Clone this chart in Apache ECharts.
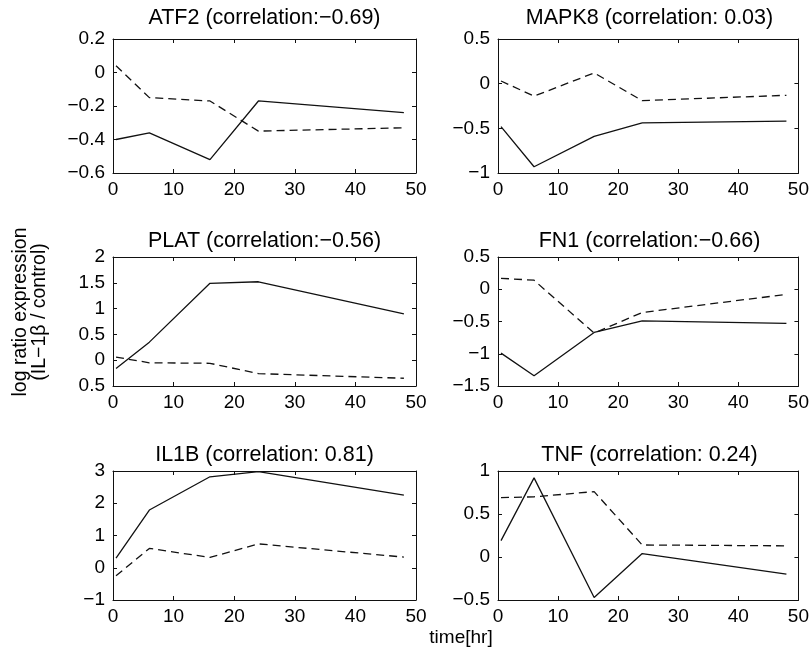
<!DOCTYPE html>
<html>
<head>
<meta charset="utf-8">
<script src="https://cdn.jsdelivr.net/npm/echarts@6/dist/echarts.min.js"></script>
<style>
  html, body { margin: 0; padding: 0; background: #fff; }
  #main { width: 812px; height: 656px; }
</style>
</head>
<body>
<div id="main"></div>
<script>
const chart = echarts.init(document.getElementById("main"));

// time points [hr]
const times = [0.5, 6, 16, 24, 48];

// solid = IL-1beta response, dashed = second profile
const atf2Solid = [-0.40, -0.36, -0.52, -0.17, -0.24];
const atf2Dashed = [0.04, -0.15, -0.17, -0.35, -0.33];
const mapk8Solid = [-0.48, -0.93, -0.59, -0.44, -0.42];
const mapk8Dashed = [0.03, -0.14, 0.12, -0.19, -0.13];
const platSolid = [-0.16, 0.35, 1.49, 1.52, 0.90];
const platDashed = [0.06, -0.05, -0.06, -0.26, -0.35];
const fn1Solid = [-0.99, -1.34, -0.67, -0.49, -0.53];
const fn1Dashed = [0.17, 0.14, -0.68, -0.36, -0.08];
const il1bSolid = [0.30, 1.79, 2.82, 2.98, 2.25];
const il1bDashed = [-0.25, 0.60, 0.32, 0.74, 0.33];
const tnfSolid = [0.19, 0.92, -0.47, 0.04, -0.20];
const tnfDashed = [0.69, 0.70, 0.76, 0.14, 0.13];

const titles = [
    'ATF2 (correlation:\u22120.69)',
    'MAPK8 (correlation: 0.03)',
    'PLAT (correlation:\u22120.56)',
    'FN1 (correlation:\u22120.66)',
    'IL1B (correlation: 0.81)',
    'TNF (correlation: 0.24)'
];
const solids = [atf2Solid, mapk8Solid, platSolid, fn1Solid, il1bSolid, tnfSolid];
const dashes = [atf2Dashed, mapk8Dashed, platDashed, fn1Dashed, il1bDashed, tnfDashed];

// y axis ranges
const yMin = [-0.6, -1, -0.5, -1.5, -1, -0.5];
const yMax = [0.2, 0.5, 2, 0.5, 3, 1];
const yStep = [0.2, 0.5, 0.5, 0.5, 1, 0.5];
const xMin = 0, xMax = 50, xStep = 10;

const grids = [
    { left: 113, top: 39, width: 303, height: 134 },
    { left: 498, top: 39, width: 303, height: 134 },
    { left: 113, top: 257, width: 303, height: 129 },
    { left: 498, top: 257, width: 303, height: 129 },
    { left: 113, top: 471, width: 303, height: 129 },
    { left: 498, top: 471, width: 303, height: 129 }
];
const titleTops = [7, 7, 230, 230, 444, 444];

const font = 'Liberation Sans, Arial, Helvetica, sans-serif';
const ink = '#111';

function fmt(v) {
    return String(+v.toFixed(2)).replace('-', '\u2212');
}

let xAxes = [], yAxes = [], series = [], title = [];

grids.forEach(function (g, i) {
    const tick = { show: true, inside: true, length: 4, lineStyle: { color: ink, width: 1 } };
    const line = { show: true, onZero: false, lineStyle: { color: ink, width: 1 } };
    // bottom + top
    xAxes.push({
        type: 'value', gridIndex: i, position: 'bottom', min: xMin, max: xMax, interval: xStep,
        axisLine: line, axisTick: tick, splitLine: { show: false },
        axisLabel: { color: '#000', fontSize: 19, fontFamily: font, margin: 7 }
    });
    xAxes.push({
        type: 'value', gridIndex: i, position: 'top', min: xMin, max: xMax, interval: xStep,
        axisLine: line, axisTick: tick, splitLine: { show: false }, axisLabel: { show: false }
    });
    // left + right
    yAxes.push({
        type: 'value', gridIndex: i, position: 'left', min: yMin[i], max: yMax[i], interval: yStep[i],
        axisLine: line, axisTick: tick, splitLine: { show: false },
        axisLabel: {
            color: '#000', fontSize: 19, fontFamily: font, margin: 8,
            formatter: function (v) {
                // the reference prints the bottom PLAT label without its minus sign
                if (i === 2 && Math.abs(v + 0.5) < 1e-9) return '0.5';
                return fmt(v);
            }
        }
    });
    yAxes.push({
        type: 'value', gridIndex: i, position: 'right', min: yMin[i], max: yMax[i], interval: yStep[i],
        axisLine: line, axisTick: tick, splitLine: { show: false }, axisLabel: { show: false }
    });

    series.push({
        type: 'line', xAxisIndex: 2 * i, yAxisIndex: 2 * i, showSymbol: false,
        data: times.map(function (t, k) { return [t, solids[i][k]]; }),
        lineStyle: { color: ink, width: 1.3 }
    });
    series.push({
        type: 'line', xAxisIndex: 2 * i, yAxisIndex: 2 * i, showSymbol: false,
        data: times.map(function (t, k) { return [t, dashes[i][k]]; }),
        lineStyle: { color: ink, width: 1.3, type: [8, 5] }
    });

    title.push({
        text: titles[i], left: g.left + g.width / 2, top: titleTops[i], textAlign: 'center', padding: 0,
        textStyle: { color: '#000', fontSize: 21.5, fontWeight: 'normal', fontFamily: font }
    });
});

let option = {
    animation: false,
    backgroundColor: '#fff',
    title: title,
    grid: grids,
    xAxis: xAxes,
    yAxis: yAxes,
    series: series,
    graphic: [
        {
            type: 'text', x: 30, y: 312, rotation: Math.PI / 2,
            style: {
                text: 'log ratio expression\n(IL\u22121\u03b2 / control)',
                textAlign: 'center', textVerticalAlign: 'middle',
                fontSize: 19.5, lineHeight: 19, fontFamily: font, fill: '#000'
            }
        },
        {
            type: 'text', x: 461, y: 638,
            style: {
                text: 'time[hr]', textAlign: 'center', textVerticalAlign: 'middle',
                fontSize: 19, fontFamily: font, fill: '#000'
            }
        }
    ]
};

chart.setOption(option);
</script>
</body>
</html>
